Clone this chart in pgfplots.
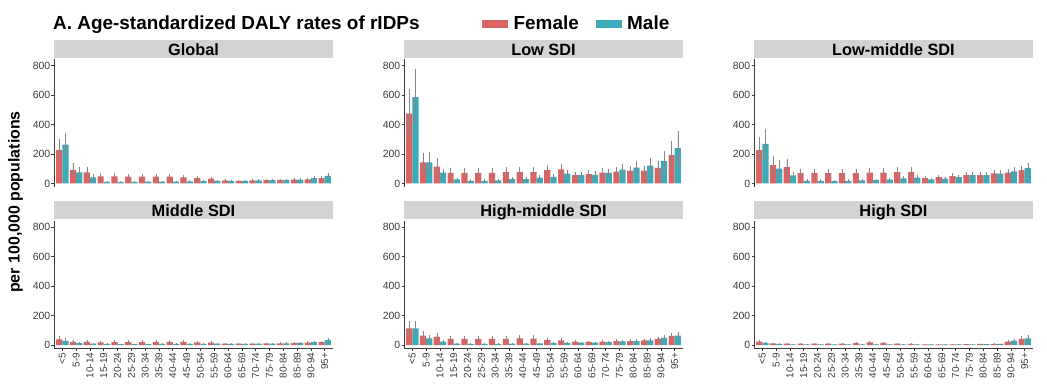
\documentclass[border=0pt]{standalone}
\usepackage{fontspec}
\setmainfont{Liberation Sans}
\usepackage{pgfplots}
\usepackage{pgfplotstable}
\pgfplotsset{compat=1.18}
\definecolor{fem}{RGB}{219,99,99}
\definecolor{mal}{RGB}{62,170,184}
\definecolor{stripc}{RGB}{211,211,211}
\definecolor{axgray}{RGB}{60,60,60}
\definecolor{ticktext}{RGB}{60,60,60}
\definecolor{errc}{RGB}{135,135,135}

% x F Fe M Me  (Fe/Me = half-width of uncertainty interval)
\pgfplotstableread{
x F Fe M Me
0 228 75 264 80
1 91 45 75 39
2 75 39 41 23
3 48 22 11 6
4 48 22 9 5
5 46 21 11 6
6 46 21 12 6
7 46 21 12 6
8 46 21 12 6
9 41 19 14 7
10 36 17 16 8
11 32 15 18 8
12 20 9 18 8
13 18 8 18 8
14 20 8 20 8
15 22 9 22 9
16 24 9 24 9
17 25 10 25 10
18 27 11 36 13
19 36 12 52 17
}\tglobal
\pgfplotstableread{
x F Fe M Me
0 475 164 587 191
1 143 65 143 70
2 114 56 74 27
3 72 31 27 12
4 72 31 18 9
5 72 31 18 9
6 72 31 20 9
7 76 33 29 13
8 76 33 29 13
9 76 33 40 17
10 90 38 45 20
11 96 38 67 26
12 56 22 56 24
13 63 25 58 25
14 74 29 72 28
15 81 31 94 36
16 87 33 108 41
17 87 34 121 50
18 105 50 152 70
19 193 98 240 119
}\tlow
\pgfplotstableread{
x F Fe M Me
0 227 91 268 100
1 125 61 100 57
2 111 53 55 25
3 70 30 18 9
4 70 30 18 9
5 70 30 16 8
6 70 30 18 9
7 70 30 20 9
8 73 31 23 10
9 73 31 25 11
10 77 32 34 14
11 77 32 39 16
12 36 15 27 12
13 43 17 32 13
14 50 19 43 17
15 57 22 57 22
16 57 22 57 22
17 68 25 66 25
18 73 26 82 30
19 91 30 104 36
}\tlowmid
\pgfplotstableread{
x F Fe M Me
0 38 20 29 18
1 22 12 13 8
2 22 12 9 6
3 18 10 7 4
4 20 11 6 4
5 20 11 6 4
6 20 11 6 4
7 22 12 7 4
8 22 12 7 4
9 22 12 8 5
10 18 10 8 5
11 16 9 9 5
12 10 6 7 4
13 10 6 8 4
14 10 6 9 5
15 11 6 10 5
16 12 6 12 6
17 13 7 14 7
18 16 8 19 9
19 20 10 34 16
}\tmid
\pgfplotstableread{
x F Fe M Me
0 114 46 114 46
1 64 30 46 22
2 55 28 23 11
3 41 21 9 5
4 41 21 8 4
5 41 21 8 4
6 41 21 8 4
7 41 21 9 5
8 46 23 10 5
9 43 22 11 6
10 34 17 13 6
11 32 16 15 7
12 23 10 16 7
13 21 9 16 7
14 23 10 20 8
15 27 11 25 10
16 27 11 27 11
17 32 12 32 13
18 41 15 48 18
19 62 22 64 24
}\thighmid
\pgfplotstableread{
x F Fe M Me
0 23 12 14 8
1 11 6 7 4
2 9 5 4 2
3 9 5 4 2
4 9 5 4 2
5 9 5 4 2
6 10 5 4 2
7 13 7 5 3
8 18 9 5 3
9 14 7 5 3
10 9 5 5 3
11 7 4 5 3
12 5 3 4 2
13 5 3 4 2
14 5 3 4 2
15 6 3 5 2
16 7 3 6 3
17 8 4 7 3
18 23 10 30 13
19 41 19 46 24
}\thigh

\pgfplotsset{
  panel/.style={
    scale only axis, width=279bp, height=128bp,
    xmin=-0.6, xmax=19.6, ymin=-25, ymax=845,
    ytick={0,200,400,600,800},
    axis y line*=left, axis x line*=bottom,
    axis line style={axgray, line width=0.9bp},
    tick align=outside, major tick length=2.5bp,
    tick style={axgray, line width=0.6bp},
    yticklabel style={font=\fontsize{10.5}{11}\selectfont, text=ticktext, inner sep=1bp},
    /pgf/number format/assume math mode=true,
    ybar, bar width=0.45,
    xtick={0,...,19},
  },
  toprow/.style={xtick=\empty, x axis line style={draw=none}},
  botrow/.style={
    xticklabels={<5,5-9,10-14,15-19,20-24,25-29,30-34,35-39,40-44,45-49,50-54,55-59,60-64,65-69,70-74,75-79,80-84,85-89,90-94,95+},
    xticklabel style={rotate=90, anchor=east, font=\fontsize{10}{10}\selectfont, text=ticktext, inner sep=1.5bp},
  },
  femplot/.style={fill=fem, draw=none, bar shift=-0.225,
    error bars/.cd, y dir=both, y explicit, error mark=none,
    error bar style={errc, line width=0.6bp}},
  malplot/.style={fill=mal, draw=none, bar shift=0.225,
    error bars/.cd, y dir=both, y explicit, error mark=none,
    error bar style={errc, line width=0.6bp}},
}

\newcommand{\panelbars}[1]{%
  \addplot[femplot] table[x=x, y=F, y error=Fe] {#1};
  \addplot[malplot] table[x=x, y=M, y error=Me] {#1};
}
\newcommand{\strip}[2]{%
  \fill[stripc] ([yshift=1.5bp]#1.north west) rectangle ([yshift=19.3bp]#1.north east);
  \node[anchor=base, font=\bfseries\fontsize{16.4}{17}\selectfont, inner sep=0pt] at ([yshift=4bp]#1.north) {#2};
}

\begin{document}
\begin{tikzpicture}
\path[use as bounding box] (0,0) rectangle (1047bp,-387bp);

\begin{axis}[panel, toprow, at={(54bp,-59.1bp)}, anchor=north west, name=p1,
  legend columns=2,
  legend style={at={(axis description cs:1.534,1.278)}, anchor=west, draw=none, fill=none,
    inner sep=0pt, font=\bfseries\fontsize{19}{19}\selectfont,
    nodes={inner sep=0pt},
    /tikz/every odd column/.append style={column sep=6bp},
    /tikz/every even column/.append style={column sep=17bp}}]
\addlegendimage{legend image code/.code={\fill[fem] (0bp,-3.7bp) rectangle (25bp,3.7bp);}}
\addlegendentry{Female}
\addlegendimage{legend image code/.code={\fill[mal] (0bp,-3.7bp) rectangle (25bp,3.7bp);}}
\addlegendentry{Male}
\panelbars{\tglobal}
\end{axis}

\begin{axis}[panel, toprow, at={(404bp,-59.1bp)}, anchor=north west, name=p2]
\panelbars{\tlow}
\end{axis}

\begin{axis}[panel, toprow, at={(754bp,-59.1bp)}, anchor=north west, name=p3]
\panelbars{\tlowmid}
\end{axis}

\begin{axis}[panel, botrow, at={(54bp,-220.7bp)}, anchor=north west, name=p4]
\panelbars{\tmid}
\end{axis}

\begin{axis}[panel, botrow, at={(404bp,-220.7bp)}, anchor=north west, name=p5]
\panelbars{\thighmid}
\end{axis}

\begin{axis}[panel, botrow, at={(754bp,-220.7bp)}, anchor=north west, name=p6]
\panelbars{\thigh}
\end{axis}

\strip{p1}{Global}
\strip{p2}{Low SDI}
\strip{p3}{Low-middle SDI}
\strip{p4}{Middle SDI}
\strip{p5}{High-middle SDI}
\strip{p6}{High SDI}

\node[anchor=base west, font=\bfseries\fontsize{19}{19}\selectfont, inner sep=0pt] at (53bp,-29.3bp) {A. Age-standardized DALY rates of rIDPs};
\node[rotate=90, anchor=base, font=\bfseries\fontsize{16}{16}\selectfont, inner sep=0pt] at (19.5bp,-202bp) {per 100,000 populations};
\end{tikzpicture}
\end{document}
